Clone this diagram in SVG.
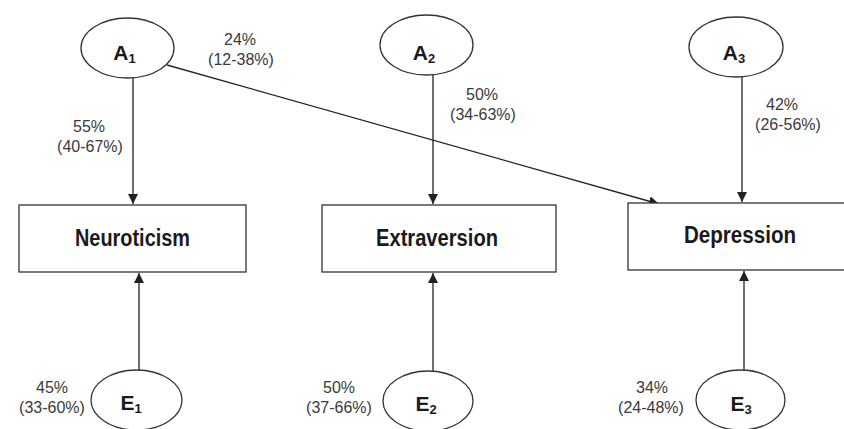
<svg xmlns="http://www.w3.org/2000/svg" width="844" height="429" viewBox="0 0 844 429">
<defs>
<marker id="arr" viewBox="0 0 10 10" refX="10" refY="5" markerWidth="10" markerHeight="10" markerUnits="userSpaceOnUse" orient="auto">
<path d="M0,0 L10,5 L0,10 z" fill="#222"/>
</marker>
<style>
.node ellipse, .node rect { fill: #fff; stroke: #333; stroke-width: 1.3; }
.lbl { font-family: "Liberation Sans", Arial, sans-serif; font-weight: bold; fill: #1a1a1a; text-anchor: middle; }
.box { font-size: 23px; }
.lat { font-size: 21px; }
.sub { font-size: 13px; }
.pct { font-family: "Liberation Sans", Arial, sans-serif; font-size: 16px; fill: #3a3a3a; text-anchor: middle; }
.conn line { stroke: #222; stroke-width: 1.3; fill: none; }
</style>
</defs>
<rect width="844" height="429" fill="#fff"/>

<g id="connectors" class="conn">
<line x1="133" y1="77" x2="133" y2="204" marker-end="url(#arr)"/>
<line x1="433" y1="75" x2="433" y2="204" marker-end="url(#arr)"/>
<line x1="742" y1="77" x2="742" y2="202" marker-end="url(#arr)"/>
<line x1="167" y1="65" x2="659" y2="204" marker-end="url(#arr)"/>
<line x1="139" y1="370" x2="139" y2="273" marker-end="url(#arr)"/>
<line x1="433" y1="371" x2="433" y2="273" marker-end="url(#arr)"/>
<line x1="744" y1="370" x2="744" y2="271" marker-end="url(#arr)"/>
</g>

<g id="neuroticism" class="node">
<rect x="19" y="205" width="227" height="67"/>
<text class="lbl box" x="132.5" y="246" textLength="115" lengthAdjust="spacingAndGlyphs">Neuroticism</text>
</g>
<g id="extraversion" class="node">
<rect x="322" y="205" width="234" height="67"/>
<text class="lbl box" x="437" y="246" textLength="122" lengthAdjust="spacingAndGlyphs">Extraversion</text>
</g>
<g id="depression" class="node">
<rect x="628" y="203" width="230" height="67"/>
<text class="lbl box" x="740" y="243" textLength="112" lengthAdjust="spacingAndGlyphs">Depression</text>
</g>

<g id="A1" class="node">
<ellipse cx="127.5" cy="48" rx="46.5" ry="30"/>
<text class="lbl lat" x="124.5" y="60">A<tspan class="sub" dy="3">1</tspan></text>
</g>
<g id="A2" class="node">
<ellipse cx="426.5" cy="45" rx="46.5" ry="30"/>
<text class="lbl lat" x="424" y="60">A<tspan class="sub" dy="3">2</tspan></text>
</g>
<g id="A3" class="node">
<ellipse cx="736" cy="47" rx="47" ry="30"/>
<text class="lbl lat" x="734" y="60">A<tspan class="sub" dy="3">3</tspan></text>
</g>
<g id="E1" class="node">
<ellipse cx="136.5" cy="400" rx="45.5" ry="30"/>
<text class="lbl lat" x="131" y="410">E<tspan class="sub" dy="3">1</tspan></text>
</g>
<g id="E2" class="node">
<ellipse cx="428" cy="401" rx="45" ry="30"/>
<text class="lbl lat" x="426" y="411">E<tspan class="sub" dy="3">2</tspan></text>
</g>
<g id="E3" class="node">
<ellipse cx="740.5" cy="400" rx="44.5" ry="30"/>
<text class="lbl lat" x="741" y="411">E<tspan class="sub" dy="3">3</tspan></text>
</g>

<g id="labels">
<text class="pct" x="89" y="132">55%</text>
<text class="pct" x="90" y="152">(40-67%)</text>
<text class="pct" x="240" y="45">24%</text>
<text class="pct" x="241" y="65">(12-38%)</text>
<text class="pct" x="482" y="100">50%</text>
<text class="pct" x="483" y="120">(34-63%)</text>
<text class="pct" x="782" y="110">42%</text>
<text class="pct" x="788" y="130">(26-56%)</text>
<text class="pct" x="52" y="393">45%</text>
<text class="pct" x="52" y="413">(33-60%)</text>
<text class="pct" x="339" y="393">50%</text>
<text class="pct" x="339" y="413">(37-66%)</text>
<text class="pct" x="652" y="393">34%</text>
<text class="pct" x="651" y="413">(24-48%)</text>
</g>
</svg>
